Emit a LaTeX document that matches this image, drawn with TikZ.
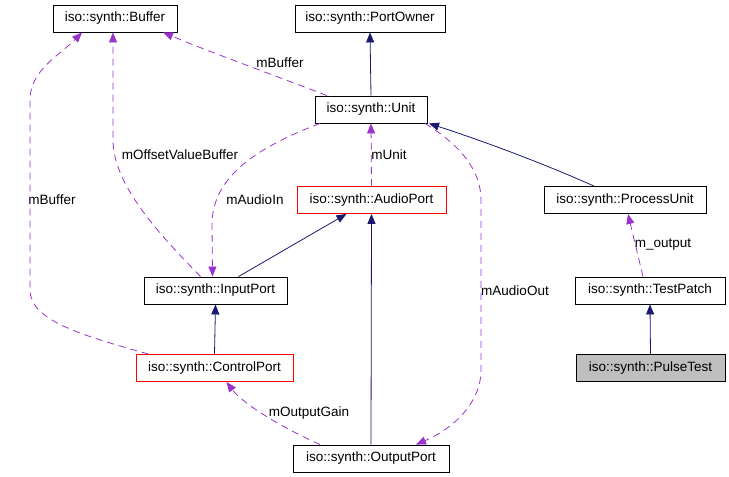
\documentclass[tikz,border=0pt]{standalone}
\usepackage{fontspec}
\setmainfont{Liberation Sans}
\usetikzlibrary{arrows.meta}
\definecolor{inhcol}{HTML}{191970}
\definecolor{usecol}{HTML}{9A32CD}
\definecolor{hlcol}{HTML}{BFBFBF}

\begin{document}
\begin{tikzpicture}[
  x=1pt, y=-1pt,
  cls/.style={rectangle, draw=black, line width=0.9pt,
    minimum height=27pt, inner sep=0pt,
    font=\fontsize{13.5}{15}\selectfont},
  redcls/.style={cls, draw=red},
  lbl/.style={font=\fontsize{13.5}{15}\selectfont, inner sep=0pt},
  inh/.style={-{Triangle[length=10pt,width=8pt]}, draw=inhcol,
    line width=0.8pt},
  use/.style={-{Triangle[length=10pt,width=8pt]}, draw=usecol,
    line width=0.8pt, dash pattern=on 7pt off 5pt}
]
\useasboundingbox (0,0) rectangle (729,477);
\node[cls, minimum width=124pt] (buffer)      at (115,18.5)  {iso::synth::Buffer};
\node[cls, minimum width=150pt] (portowner)   at (370,18.5)  {iso::synth::PortOwner};
\node[cls, minimum width=112pt] (unit)        at (371,109.5) {iso::synth::Unit};
\node[redcls, minimum width=149pt] (audioport) at (371.5,200) {iso::synth::AudioPort};
\node[cls, minimum width=162pt] (processunit) at (625,200)   {iso::synth::ProcessUnit};
\node[cls, minimum width=143pt] (inputport)   at (215.5,290.5) {iso::synth::InputPort};
\node[cls, minimum width=150pt] (testpatch)   at (650,290.5) {iso::synth::TestPatch};
\node[redcls, minimum width=157pt] (controlport) at (214.5,368) {iso::synth::ControlPort};
\node[cls, fill=hlcol, minimum width=149pt] (pulsetest) at (650.5,368) {iso::synth::PulseTest};
\node[cls, minimum width=156pt] (outputport)  at (371,458.5) {iso::synth::OutputPort};
\node[lbl] (lbufa)   at (280,63)  {mBuffer};
\node[lbl] (lbufb)   at (52,200)  {mBuffer};
\node[lbl] (loffset) at (180,155) {mOffsetValueBuffer};
\node[lbl] (lain)    at (255,200) {mAudioIn};
\node[lbl] (lunit)   at (389,155) {mUnit};
\node[lbl] (laout)   at (515,291) {mAudioOut};
\node[lbl] (lgain)   at (309,413) {mOutputGain};
\node[lbl] (lout)    at (663,245) {m\_output};
\draw[inh] (unit.north) -- (portowner.south);
\draw[use] ([xshift=-44pt]unit.north) .. controls (260,70) and (210,52) .. ([xshift=48pt]buffer.south);
\draw[use] ([xshift=-66pt]controlport.north) .. controls (80,335) and (30,320) .. (30,290)
  -- (30,100) .. controls (30,70) and (60,55) .. ([xshift=-33pt]buffer.south);
\draw[use] ([xshift=-15pt]inputport.north) .. controls (160,235) and (113,185) .. (113,140)
  -- ([xshift=-2pt]buffer.south);
\draw[use] ([xshift=-51pt]unit.south) .. controls (250,150) and (212,180) .. (212,225)
  -- ([xshift=-3pt]inputport.north);
\draw[use] (audioport.north) -- (unit.south);
\draw[use] ([xshift=54pt]unit.south) .. controls (460,145) and (481,170) .. (481,200)
  -- (481,370) .. controls (481,405) and (450,430) .. ([xshift=45pt]outputport.north);
\draw[inh] ([xshift=-31pt]processunit.north) .. controls (540,162) and (480,140) .. ([xshift=58pt]unit.south);
\draw[inh] ([xshift=23pt]inputport.north) -- ([xshift=-25pt]audioport.south);
\draw[inh] (outputport.north) -- (audioport.south);
\draw[inh] (controlport.north) -- (inputport.south);
\draw[use] ([xshift=-51pt]outputport.north) .. controls (270,422) and (240,400) .. ([xshift=12pt]controlport.south);
\draw[use] ([xshift=-7pt]testpatch.north) -- ([xshift=3pt]processunit.south);
\draw[inh] (pulsetest.north) -- (testpatch.south);
\end{tikzpicture}
\end{document}
